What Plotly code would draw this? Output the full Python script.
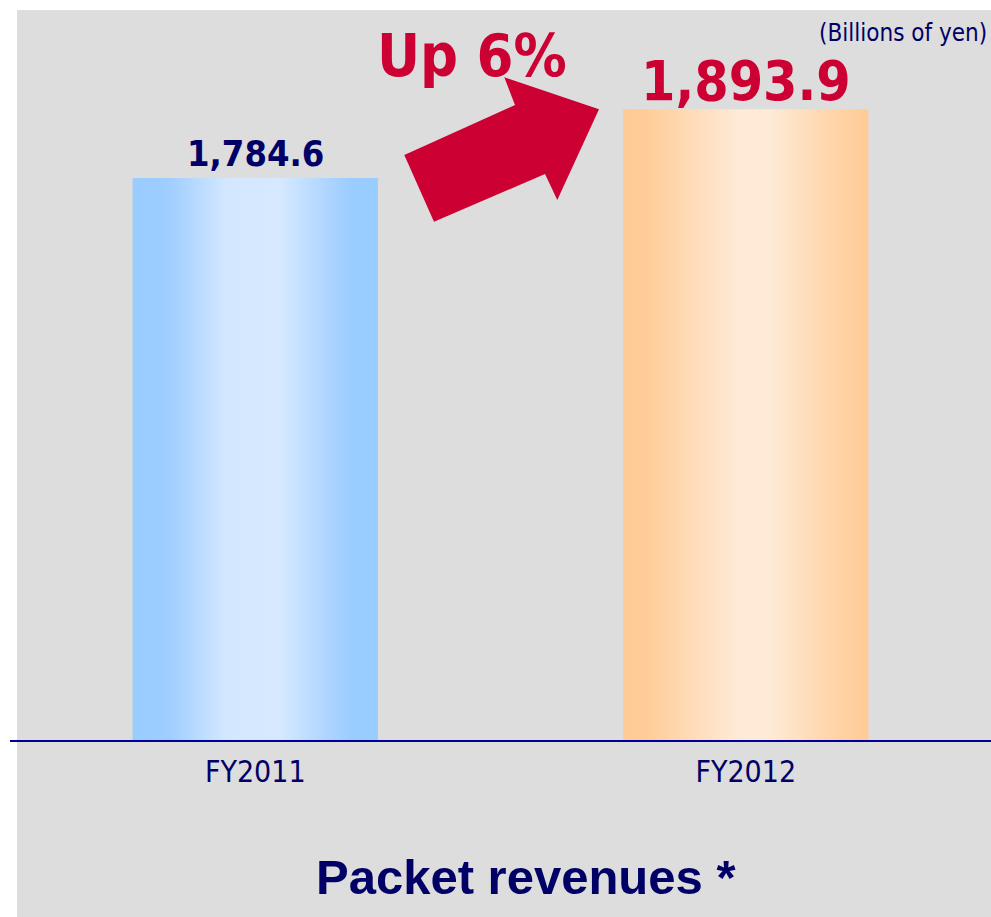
import plotly.graph_objects as go

# ---- data ----
categories = ["FY2011", "FY2012"]
values = [1784.6, 1893.9]
value_labels = ["1,784.6", "1,893.9"]
growth_label = "Up 6%"
unit_label = "(Billions of yen)"
chart_title = "Packet revenues *"

# ---- style ----
W, H = 991, 917
ML, MR, MT, MB = 10, 0, 10, 177
PW, PH = W - ML - MR, H - MT - MB
NAVY = "#000066"
RED = "#CC0033"
GRAY = "#DDDDDD"
COND = "DejaVu Sans Condensed, DejaVu Sans, sans-serif"
ARIAL = "Liberation Sans, Arial, sans-serif"
bar_width = 0.5
y_range = [890.4, 2051.9]

gradients = [
    [[0, "#99CCFF"], [0.15, "#9FCEFF"], [0.38, "#D3E7FF"], [0.6, "#D6E9FF"],
     [0.82, "#A9D2FF"], [0.9, "#99CCFF"], [1, "#99CCFF"]],
    [[0, "#FFCA96"], [0.1, "#FFCC99"], [0.3, "#FEDDBB"], [0.47, "#FEEAD6"],
     [0.6, "#FEEAD6"], [0.8, "#FFD9B2"], [1, "#FFCA96"]],
]
label_colors = [NAVY, RED]
label_sizes = [36, 55]
label_shift = [2, -6]


def px(x):
    """pixel x -> paper"""
    return (x - ML) / PW


def py(y):
    """pixel y -> paper"""
    return (H - MB - y) / PH


fig = go.Figure()
for i, (cat, v) in enumerate(zip(categories, values)):
    x0, x1 = i - bar_width / 2, i + bar_width / 2
    fig.add_trace(go.Scatter(
        x=[x0, x1, x1, x0, x0], y=[0, 0, v, v, 0],
        mode="lines", line=dict(width=0), fill="toself",
        fillgradient=dict(type="horizontal", colorscale=gradients[i]),
        name=cat, hoverinfo="skip", showlegend=False,
    ))
    fig.add_annotation(
        x=i, y=v, xref="x", yref="y", text=f"<b>{value_labels[i]}</b>",
        showarrow=False, yanchor="bottom", yshift=label_shift[i],
        font=dict(family=COND, size=label_sizes[i], color=label_colors[i]),
    )

# background panel
fig.add_shape(type="rect", xref="paper", yref="paper",
              x0=px(17), x1=px(W + 2), y0=py(H + 2), y1=py(10),
              fillcolor=GRAY, line=dict(width=0), layer="below")

# arrow
arrow_pts = [(404.3, 155), (515, 105), (504.3, 77.3), (599, 109.3),
             (557.3, 200), (545, 174), (434, 221.7)]
path = "M " + " L ".join(f"{px(a):.5f},{py(b):.5f}" for a, b in arrow_pts) + " Z"
fig.add_shape(type="path", xref="paper", yref="paper", path=path,
              fillcolor=RED, line=dict(width=0))

fig.add_annotation(x=px(472), y=py(56), xref="paper", yref="paper",
                   text=f"<b>{growth_label}</b>", showarrow=False,
                   xanchor="center", yanchor="middle",
                   font=dict(family=COND, size=59, color=RED))
fig.add_annotation(x=px(989), y=py(33.5), xref="paper", yref="paper",
                   text=unit_label, showarrow=False,
                   xanchor="right", yanchor="middle",
                   font=dict(family=COND, size=24, color=NAVY))
fig.add_annotation(x=px(525.5), y=py(876.5), xref="paper", yref="paper",
                   text=f"<b>{chart_title}</b>", showarrow=False,
                   xanchor="center", yanchor="middle",
                   font=dict(family=ARIAL, size=49, color=NAVY))

fig.update_layout(
    width=W, height=H, autosize=False,
    margin=dict(l=ML, r=MR, t=MT, b=MB, pad=0),
    paper_bgcolor="white", plot_bgcolor="rgba(0,0,0,0)",
    showlegend=False,
    xaxis=dict(range=[-0.5, 1.5], tickvals=list(range(len(categories))),
               ticktext=categories, showgrid=False, zeroline=False,
               showline=True, linecolor="#000099", linewidth=1.5,
               ticks="", ticklabelstandoff=4,
               tickfont=dict(family=COND, size=30, color=NAVY),
               fixedrange=True),
    yaxis=dict(range=y_range, visible=False, showgrid=False,
               zeroline=False, fixedrange=True),
)

fig.write_html(
    "out.html",
    config={"displayModeBar": False, "staticPlot": True},
    post_script="document.body.style.margin='0';"
                "document.body.style.overflow='hidden';",
)
